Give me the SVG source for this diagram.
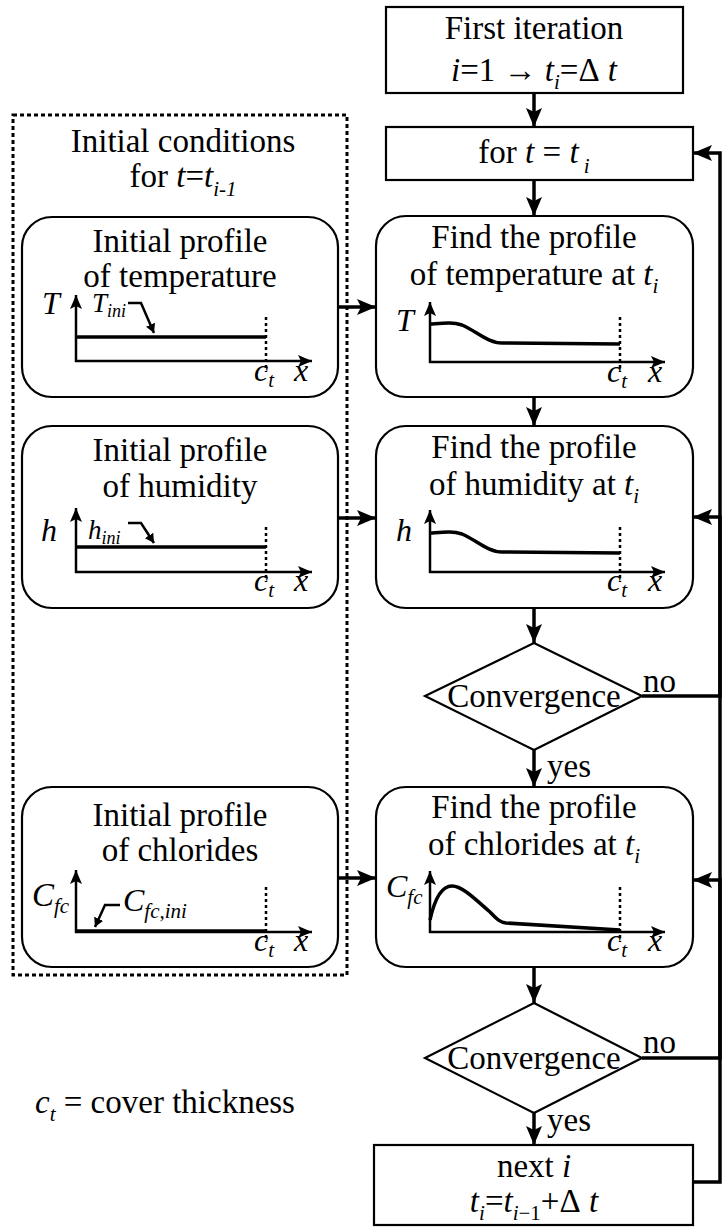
<svg xmlns="http://www.w3.org/2000/svg" width="728" height="1227" viewBox="0 0 728 1227">
<defs>
<style>
.t{font-family:'Liberation Serif','DejaVu Serif',serif;font-size:33px;fill:#000}
.m{text-anchor:middle}
.i{font-style:italic}
.s{font-size:21px}
.g{font-size:32px}
.l{font-size:27px}
.ls{font-size:18px}
.box{fill:#fff;stroke:#000;stroke-width:2.2}
.con{fill:none;stroke:#000;stroke-width:3.5}
.ax{fill:none;stroke:#000;stroke-width:2.5}
.pr{fill:none;stroke:#000;stroke-width:3.5}
.dot{fill:none;stroke:#000;stroke-width:2.5;stroke-dasharray:3 3}
.ld{fill:none;stroke:#000;stroke-width:2.5}
</style>
<marker id="ah" markerUnits="userSpaceOnUse" markerWidth="22" markerHeight="18" refX="19" refY="8" orient="auto">
<path d="M0,0 L19,8 L0,16 L4,8 z" fill="#000"/>
</marker>
<marker id="sa" markerUnits="userSpaceOnUse" markerWidth="16" markerHeight="12" refX="14" refY="6" orient="auto">
<path d="M0,0 L14,6 L0,12 L3,6 z" fill="#000"/>
</marker>
<marker id="la" markerUnits="userSpaceOnUse" markerWidth="10" markerHeight="10" refX="9" refY="5" orient="auto">
<path d="M0,0 L9,5 L0,10 z" fill="#000"/>
</marker>
</defs>
<rect width="728" height="1227" fill="#fff"/>

<g id="initial-conditions">
<rect x="13" y="115" width="334" height="860" fill="none" stroke="#000" stroke-width="3" stroke-dasharray="4 3"/>
<text class="t m" x="183" y="152">Initial conditions</text>
<text class="t m" x="183" y="187">for <tspan class="i">t</tspan>=<tspan class="i">t</tspan><tspan class="i s" dy="9">i-1</tspan></text>
</g>

<g id="first-iteration">
<rect class="box" x="386" y="7" width="297" height="86"/>
<text class="t m" x="534" y="39">First iteration</text>
<text class="t m" x="534" y="81"><tspan class="i">i</tspan>=1 → <tspan class="i">t</tspan><tspan class="i s" dy="8">i</tspan><tspan dy="-8">=Δ</tspan><tspan class="i"> t</tspan></text>
</g>

<g id="for-t">
<rect class="box" x="386" y="127" width="307" height="53"/>
<text class="t m" x="534" y="163">for <tspan class="i">t</tspan> = <tspan class="i">t</tspan><tspan class="i s" dy="10"> i</tspan></text>
</g>

<g id="initial-temperature">
<rect class="box" x="22" y="217" width="316" height="180" rx="30"/>
<text class="t m" x="180" y="252">Initial profile</text>
<text class="t m" x="180" y="287">of temperature</text>
<text class="t i g" x="42" y="314">T</text>
<text class="t i l" x="92" y="312">T<tspan class="ls" dy="5">ini</tspan></text>
<polyline class="ld" points="128,303 141,303 154,333" marker-end="url(#la)"/>
<line class="ax" x1="76" y1="362" x2="76" y2="295" marker-end="url(#sa)"/>
<line class="ax" x1="75" y1="361" x2="312" y2="361" marker-end="url(#sa)"/>
<line class="pr" x1="76" y1="337" x2="266" y2="337"/>
<line class="dot" x1="266" y1="317" x2="266" y2="372"/>
<text class="t i g" x="254" y="381">c<tspan class="s" dy="6">t</tspan></text>
<text class="t i g" x="294" y="381">x</text>
</g>

<g id="find-temperature">
<rect class="box" x="376" y="216" width="317" height="181" rx="30"/>
<text class="t m" x="534" y="248">Find the profile</text>
<text class="t m" x="534" y="285">of temperature at <tspan class="i">t</tspan><tspan class="i s" dy="8">i</tspan></text>
<text class="t i g" x="396" y="331">T</text>
<line class="ax" x1="430" y1="363" x2="430" y2="302" marker-end="url(#sa)"/>
<line class="ax" x1="429" y1="362" x2="665" y2="362" marker-end="url(#sa)"/>
<path class="pr" d="M430,324 C445,323 452,322 462,325 C476,331 488,343 502,343 L620,344"/>
<line class="dot" x1="620" y1="317" x2="620" y2="372"/>
<text class="t i g" x="607" y="382">c<tspan class="s" dy="6">t</tspan></text>
<text class="t i g" x="648" y="382">x</text>
</g>

<g id="initial-humidity">
<rect class="box" x="22" y="426" width="316" height="182" rx="30"/>
<text class="t m" x="180" y="461">Initial profile</text>
<text class="t m" x="180" y="497">of humidity</text>
<text class="t i g" x="41" y="541">h</text>
<text class="t i l" x="88" y="539">h<tspan class="ls" dy="5">ini</tspan></text>
<polyline class="ld" points="128,523 141,523 154,543" marker-end="url(#la)"/>
<line class="ax" x1="76" y1="573" x2="76" y2="508" marker-end="url(#sa)"/>
<line class="ax" x1="75" y1="572" x2="312" y2="572" marker-end="url(#sa)"/>
<line class="pr" x1="76" y1="547" x2="266" y2="547"/>
<line class="dot" x1="266" y1="527" x2="266" y2="582"/>
<text class="t i g" x="254" y="591">c<tspan class="s" dy="6">t</tspan></text>
<text class="t i g" x="294" y="591">x</text>
</g>

<g id="find-humidity">
<rect class="box" x="376" y="426" width="317" height="182" rx="30"/>
<text class="t m" x="534" y="458">Find the profile</text>
<text class="t m" x="534" y="495">of humidity at <tspan class="i">t</tspan><tspan class="i s" dy="8">i</tspan></text>
<text class="t i g" x="396" y="541">h</text>
<line class="ax" x1="430" y1="573" x2="430" y2="510" marker-end="url(#sa)"/>
<line class="ax" x1="429" y1="572" x2="665" y2="572" marker-end="url(#sa)"/>
<path class="pr" d="M430,533 C445,532 452,531 462,534 C476,540 488,552 502,552 L620,553"/>
<line class="dot" x1="620" y1="527" x2="620" y2="582"/>
<text class="t i g" x="607" y="591">c<tspan class="s" dy="6">t</tspan></text>
<text class="t i g" x="648" y="591">x</text>
</g>

<g id="convergence-1">
<polygon class="box" points="534,643 642,696 534,750 425,696"/>
<text class="t m" x="534" y="707">Convergence</text>
</g>

<g id="initial-chlorides">
<rect class="box" x="22" y="787" width="316" height="180" rx="30"/>
<text class="t m" x="180" y="826">Initial profile</text>
<text class="t m" x="180" y="861">of chlorides</text>
<text class="t i" x="32" y="906">C<tspan class="s" dy="7">fc</tspan></text>
<text class="t i g" x="123" y="911">C<tspan class="s" dy="7">fc,ini</tspan></text>
<polyline class="ld" points="120,905 105,905 95,927" marker-end="url(#la)"/>
<line class="ax" x1="76" y1="933" x2="76" y2="870" marker-end="url(#sa)"/>
<line class="ax" x1="75" y1="932" x2="312" y2="932" marker-end="url(#sa)"/>
<line class="pr" x1="76" y1="931" x2="266" y2="931"/>
<line class="dot" x1="266" y1="887" x2="266" y2="942"/>
<text class="t i g" x="254" y="951">c<tspan class="s" dy="6">t</tspan></text>
<text class="t i g" x="294" y="951">x</text>
</g>

<g id="find-chlorides">
<rect class="box" x="376" y="787" width="317" height="180" rx="30"/>
<text class="t m" x="534" y="818">Find the profile</text>
<text class="t m" x="534" y="855">of chlorides at <tspan class="i">t</tspan><tspan class="i s" dy="8">i</tspan></text>
<text class="t i g" x="386" y="897">C<tspan class="s" dy="7">fc</tspan></text>
<line class="ax" x1="430" y1="933" x2="430" y2="871" marker-end="url(#sa)"/>
<line class="ax" x1="429" y1="932" x2="665" y2="932" marker-end="url(#sa)"/>
<path class="pr" d="M430,920 C435,897 443,886 452,886 C462,886 474,898 490,912 C496,918 499,922 506,923 L620,930"/>
<line class="dot" x1="620" y1="887" x2="620" y2="942"/>
<text class="t i g" x="607" y="951">c<tspan class="s" dy="6">t</tspan></text>
<text class="t i g" x="648" y="951">x</text>
</g>

<g id="convergence-2">
<polygon class="box" points="534,1003 642,1058 534,1113 425,1058"/>
<text class="t m" x="534" y="1069">Convergence</text>
</g>

<g id="next-i">
<rect class="box" x="374" y="1145" width="319" height="80"/>
<text class="t m" x="534" y="1177">next <tspan class="i">i</tspan></text>
<text class="t m" x="534" y="1212"><tspan class="i">t</tspan><tspan class="i s" dy="8">i</tspan><tspan dy="-8">=</tspan><tspan class="i">t</tspan><tspan class="i s" dy="8">i</tspan><tspan class="s">−1</tspan><tspan dy="-8">+Δ</tspan><tspan class="i"> t</tspan></text>
</g>

<g id="legend">
<text class="t" x="35" y="1113"><tspan class="i">c</tspan><tspan class="i s" dy="8">t</tspan><tspan dy="-8"> = cover thickness</tspan></text>
</g>

<g id="connectors">
<line class="con" x1="534" y1="93" x2="534" y2="127" marker-end="url(#ah)"/>
<line class="con" x1="534" y1="180" x2="534" y2="216" marker-end="url(#ah)"/>
<line class="con" x1="534" y1="397" x2="534" y2="426" marker-end="url(#ah)"/>
<line class="con" x1="534" y1="608" x2="534" y2="643" marker-end="url(#ah)"/>
<line class="con" x1="534" y1="750" x2="534" y2="787" marker-end="url(#ah)"/>
<line class="con" x1="534" y1="967" x2="534" y2="1003" marker-end="url(#ah)"/>
<line class="con" x1="534" y1="1113" x2="534" y2="1145" marker-end="url(#ah)"/>
<polyline class="con" points="642,696 720,696 720,517 693,517" marker-end="url(#ah)"/>
<polyline class="con" points="642,1058 720,1058 720,880 693,880" marker-end="url(#ah)"/>
<polyline class="con" points="693,1182 720,1182 720,153 693,153" marker-end="url(#ah)"/>
<line class="con" x1="338" y1="307" x2="376" y2="307" marker-end="url(#ah)"/>
<line class="con" x1="338" y1="518" x2="376" y2="518" marker-end="url(#ah)"/>
<line class="con" x1="338" y1="878" x2="376" y2="878" marker-end="url(#ah)"/>
<text class="t" x="643" y="692">no</text>
<text class="t" x="643" y="1053">no</text>
<text class="t" x="547" y="777">yes</text>
<text class="t" x="547" y="1131">yes</text>
</g>
</svg>
